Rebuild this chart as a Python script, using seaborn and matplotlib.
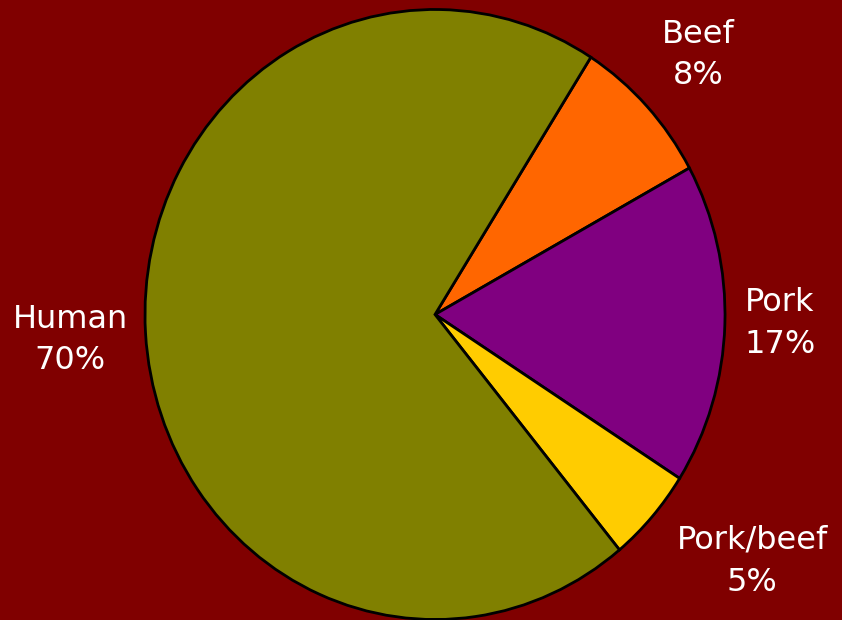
import matplotlib
matplotlib.use("Agg")
import matplotlib.pyplot as plt
import seaborn as sns
import numpy as np

# Source of infection shares (percent)
categories = ["Beef", "Pork", "Pork/beef", "Human"]
shares = [8, 17, 5, 70]
slice_colors = ["#FF6600", "#800080", "#FFCC00", "#808000"]
background = "#800000"

sns.set_theme(style="white")
plt.rcParams["font.family"] = ["DejaVu Sans"]

fig = plt.figure(figsize=(8.42, 6.20), dpi=100, facecolor=background)
ax = fig.add_axes([0, 0, 1, 1])
ax.set_facecolor(background)

wedges, _ = ax.pie(
    shares,
    colors=sns.color_palette(slice_colors),
    startangle=57.5,
    counterclock=False,
    wedgeprops=dict(edgecolor="black", linewidth=2.0),
)

# Stretch the pie slightly taller than wide
ax.set_aspect("auto")
ax.set_xlim(-1.5, 1.4034)
ax.set_ylim(-1.0016, 1.0311)
ax.axis("off")

# Label block placement: radial distance and angular nudge per slice
label_dist = [1.245, 1.19, 1.36, 1.26]
label_nudge = [0.0, 0.5, 5.0, 0.3]
for w, name, val, d, nudge in zip(wedges, categories, shares, label_dist, label_nudge):
    mid = np.deg2rad((w.theta1 + w.theta2) / 2 + nudge)
    ax.text(d * np.cos(mid), d * np.sin(mid), f"{name}\n{val}%",
            ha="center", va="center", color="white", fontsize=23,
            linespacing=1.45)

fig.savefig("out.png", dpi=100, facecolor=background)
